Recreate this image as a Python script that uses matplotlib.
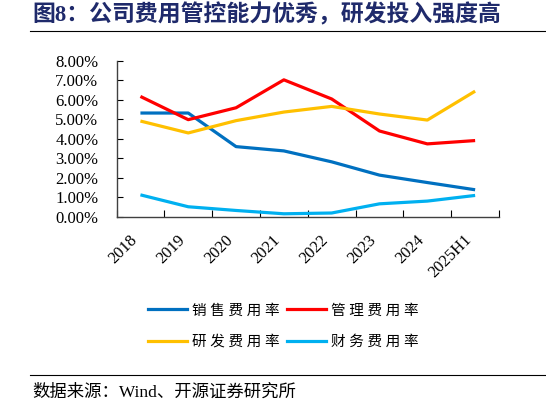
import numpy as np
import matplotlib
matplotlib.use("Agg")
import matplotlib.pyplot as plt
from matplotlib.lines import Line2D

# data (percent)
years = ["2018", "2019", "2020", "2021", "2022", "2023", "2024", "2025H1"]
sales_rate = [5.31, 5.31, 3.59, 3.37, 2.81, 2.13, 1.75, 1.38]
admin_rate = [6.16, 4.97, 5.58, 7.01, 6.03, 4.39, 3.73, 3.90]
rd_rate = [4.90, 4.29, 4.92, 5.36, 5.65, 5.26, 4.95, 6.43]
fin_rate = [1.12, 0.51, 0.32, 0.15, 0.19, 0.66, 0.80, 1.09]

series_names = ["销 售 费 用 率", "管 理 费 用 率", "研 发 费 用 率", "财 务 费 用 率"]
series_colors = ["#0070C0", "#FF0000", "#FFC000", "#00B0F0"]

plt.rcParams["font.family"] = ["Liberation Serif", "Noto Sans CJK SC"]

fig = plt.figure(figsize=(5.46, 4.05), dpi=100)
ax = fig.add_axes([0.2134, 0.4649, 0.7006, 0.3857])

x = np.arange(len(years))
lines = []
for vals, col in zip([sales_rate, admin_rate, rd_rate, fin_rate], series_colors):
    ln, = ax.plot(x, vals, color=col, linewidth=2.3, solid_capstyle="butt")
    lines.append(ln)

ax.set_xlim(-0.5, len(years) - 0.5)
ax.set_ylim(0, 8)
ax.set_yticks(np.arange(0, 9, 1))
ax.set_yticklabels(["%.2f%%" % v for v in np.arange(0, 9, 1)], fontsize=12)
ax.tick_params(axis="y", direction="in", length=4, width=0.8, pad=13, colors="black")

# year labels at centres, tick marks at the category boundaries
ax.set_xticks(x)
ax.set_xticklabels(years, fontsize=12, rotation=45, ha="right", rotation_mode="default")
ax.tick_params(axis="x", which="major", length=0, pad=11)
ax.set_xticks(np.arange(-0.5, len(years), 1), minor=True)
ax.tick_params(axis="x", which="minor", direction="in", length=5, width=0.8)

for side in ["top", "right"]:
    ax.spines[side].set_visible(False)
for side in ["left", "bottom"]:
    ax.spines[side].set_color("#404040")
    ax.spines[side].set_linewidth(1.0)

# legend fills by column, so order it to get sales/admin on the first row
handles = [Line2D([0], [0], color=c, linewidth=2.3) for c in series_colors]
order = [0, 2, 1, 3]
fig.legend([handles[i] for i in order], [series_names[i] for i in order], ncol=2,
           loc="center", bbox_to_anchor=(0.519, 0.194), frameon=False,
           prop={"size": 10.5}, handlelength=2.7, handletextpad=0.35,
           columnspacing=0.45, labelspacing=1.2)

# title, rules and source note
fig.text(0.06, 0.963, "图8：公司费用管控能力优秀，研发投入强度高", fontsize=16.5,
         fontweight="bold", color="#1F2A6B", va="center", ha="left")
fig.add_artist(Line2D([30 / 546, 1.0], [1 - 31 / 405] * 2, color="black", linewidth=0.8))
fig.add_artist(Line2D([30 / 546, 1.0], [1 - 375 / 405] * 2, color="black", linewidth=0.8))
fig.text(32 / 546, 1 - 393 / 405, "数据来源：Wind、开源证券研究所", fontsize=12.5,
         color="black", va="center", ha="left")

fig.savefig("out.png", dpi=100)
